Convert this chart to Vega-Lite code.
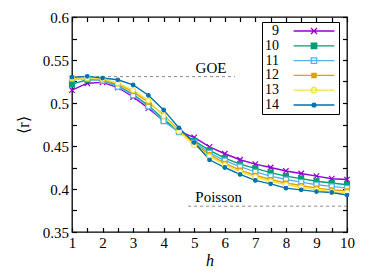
{
  "$schema": "https://vega.github.io/schema/vega-lite/v6.json",
  "width": 275,
  "height": 215,
  "autosize": "none",
  "padding": {"left": 72, "top": 17, "right": 27, "bottom": 48},
  "background": "white",
  "config": {
    "font": "Liberation Serif",
    "view": {"stroke": "black", "strokeWidth": 1.3, "fill": null},
    "axis": {"grid": false, "domain": false, "ticks": true, "tickColor": "#000000", "tickOpacity": 1, "tickWidth": 1.2, "tickSize": -4.5, "zindex": 5, "labelFont": "Liberation Serif", "labelFontSize": 15, "labelColor": "black", "titleFont": "Liberation Serif", "titleFontSize": 16, "titleFontWeight": "normal", "titleColor": "black", "labelFlush": false, "labelOverlap": false}
  },
  "data": {"values": [
    {"n": "9", "h": 1, "r": 0.515}, {"n": "9", "h": 1.5, "r": 0.523}, {"n": "9", "h": 2, "r": 0.524}, {"n": "9", "h": 2.5, "r": 0.518}, {"n": "9", "h": 3, "r": 0.507}, {"n": "9", "h": 3.5, "r": 0.494}, {"n": "9", "h": 4, "r": 0.479}, {"n": "9", "h": 4.5, "r": 0.467}, {"n": "9", "h": 5, "r": 0.46}, {"n": "9", "h": 5.5, "r": 0.449}, {"n": "9", "h": 6, "r": 0.441}, {"n": "9", "h": 6.5, "r": 0.434}, {"n": "9", "h": 7, "r": 0.429}, {"n": "9", "h": 7.5, "r": 0.425}, {"n": "9", "h": 8, "r": 0.421}, {"n": "9", "h": 8.5, "r": 0.418}, {"n": "9", "h": 9, "r": 0.415}, {"n": "9", "h": 9.5, "r": 0.412}, {"n": "9", "h": 10, "r": 0.411},
    {"n": "10", "h": 1, "r": 0.522}, {"n": "10", "h": 1.5, "r": 0.527}, {"n": "10", "h": 2, "r": 0.527}, {"n": "10", "h": 2.5, "r": 0.52}, {"n": "10", "h": 3, "r": 0.51}, {"n": "10", "h": 3.5, "r": 0.497}, {"n": "10", "h": 4, "r": 0.481}, {"n": "10", "h": 4.5, "r": 0.467}, {"n": "10", "h": 5, "r": 0.456}, {"n": "10", "h": 5.5, "r": 0.445}, {"n": "10", "h": 6, "r": 0.436}, {"n": "10", "h": 6.5, "r": 0.429}, {"n": "10", "h": 7, "r": 0.424}, {"n": "10", "h": 7.5, "r": 0.419}, {"n": "10", "h": 8, "r": 0.415}, {"n": "10", "h": 8.5, "r": 0.412}, {"n": "10", "h": 9, "r": 0.409}, {"n": "10", "h": 9.5, "r": 0.407}, {"n": "10", "h": 10, "r": 0.405},
    {"n": "11", "h": 1, "r": 0.528}, {"n": "11", "h": 1.5, "r": 0.528}, {"n": "11", "h": 2, "r": 0.526}, {"n": "11", "h": 2.5, "r": 0.519}, {"n": "11", "h": 3, "r": 0.509}, {"n": "11", "h": 3.5, "r": 0.496}, {"n": "11", "h": 4, "r": 0.479}, {"n": "11", "h": 4.5, "r": 0.466}, {"n": "11", "h": 5, "r": 0.454}, {"n": "11", "h": 5.5, "r": 0.442}, {"n": "11", "h": 6, "r": 0.433}, {"n": "11", "h": 6.5, "r": 0.426}, {"n": "11", "h": 7, "r": 0.42}, {"n": "11", "h": 7.5, "r": 0.415}, {"n": "11", "h": 8, "r": 0.411}, {"n": "11", "h": 8.5, "r": 0.408}, {"n": "11", "h": 9, "r": 0.405}, {"n": "11", "h": 9.5, "r": 0.403}, {"n": "11", "h": 10, "r": 0.401},
    {"n": "12", "h": 1, "r": 0.529}, {"n": "12", "h": 1.5, "r": 0.529}, {"n": "12", "h": 2, "r": 0.527}, {"n": "12", "h": 2.5, "r": 0.522}, {"n": "12", "h": 3, "r": 0.513}, {"n": "12", "h": 3.5, "r": 0.501}, {"n": "12", "h": 4, "r": 0.486}, {"n": "12", "h": 4.5, "r": 0.468}, {"n": "12", "h": 5, "r": 0.453}, {"n": "12", "h": 5.5, "r": 0.44}, {"n": "12", "h": 6, "r": 0.43}, {"n": "12", "h": 6.5, "r": 0.422}, {"n": "12", "h": 7, "r": 0.416}, {"n": "12", "h": 7.5, "r": 0.411}, {"n": "12", "h": 8, "r": 0.407}, {"n": "12", "h": 8.5, "r": 0.404}, {"n": "12", "h": 9, "r": 0.401}, {"n": "12", "h": 9.5, "r": 0.399}, {"n": "12", "h": 10, "r": 0.398},
    {"n": "13", "h": 1, "r": 0.529}, {"n": "13", "h": 1.5, "r": 0.529}, {"n": "13", "h": 2, "r": 0.528}, {"n": "13", "h": 2.5, "r": 0.523}, {"n": "13", "h": 3, "r": 0.515}, {"n": "13", "h": 3.5, "r": 0.503}, {"n": "13", "h": 4, "r": 0.485}, {"n": "13", "h": 4.5, "r": 0.467}, {"n": "13", "h": 5, "r": 0.451}, {"n": "13", "h": 5.5, "r": 0.438}, {"n": "13", "h": 6, "r": 0.428}, {"n": "13", "h": 6.5, "r": 0.42}, {"n": "13", "h": 7, "r": 0.414}, {"n": "13", "h": 7.5, "r": 0.409}, {"n": "13", "h": 8, "r": 0.405}, {"n": "13", "h": 8.5, "r": 0.402}, {"n": "13", "h": 9, "r": 0.399}, {"n": "13", "h": 9.5, "r": 0.397}, {"n": "13", "h": 10, "r": 0.396},
    {"n": "14", "h": 1, "r": 0.53}, {"n": "14", "h": 1.5, "r": 0.531}, {"n": "14", "h": 2, "r": 0.529}, {"n": "14", "h": 2.5, "r": 0.527}, {"n": "14", "h": 3, "r": 0.521}, {"n": "14", "h": 3.5, "r": 0.509}, {"n": "14", "h": 4, "r": 0.492}, {"n": "14", "h": 4.5, "r": 0.471}, {"n": "14", "h": 5, "r": 0.454}, {"n": "14", "h": 5.5, "r": 0.434}, {"n": "14", "h": 6, "r": 0.425}, {"n": "14", "h": 6.5, "r": 0.417}, {"n": "14", "h": 7, "r": 0.41}, {"n": "14", "h": 7.5, "r": 0.406}, {"n": "14", "h": 8, "r": 0.401}, {"n": "14", "h": 8.5, "r": 0.399}, {"n": "14", "h": 9, "r": 0.397}, {"n": "14", "h": 9.5, "r": 0.396}, {"n": "14", "h": 10, "r": 0.393}
  ]},
  "layer": [
    {
      "data": {"values": [{}]},
      "mark": {"type": "rule", "color": "#8c8c8c", "strokeDash": [3, 3], "strokeWidth": 1},
      "encoding": {
        "x": {"datum": 1, "type": "quantitative", "axis": null},
        "x2": {"datum": 6.33},
        "y": {"datum": 0.5307, "type": "quantitative", "axis": null}
      }
    },
    {
      "data": {"values": [{}]},
      "mark": {"type": "rule", "color": "#8c8c8c", "strokeDash": [3, 3], "strokeWidth": 1},
      "encoding": {
        "x": {"datum": 4.8, "type": "quantitative", "axis": null},
        "x2": {"datum": 10},
        "y": {"datum": 0.38, "type": "quantitative", "axis": null}
      }
    },
    {
      "data": {"values": [{}]},
      "mark": {"type": "text", "fontSize": 15, "font": "Liberation Serif", "color": "black"},
      "encoding": {
        "x": {"datum": 5.55, "type": "quantitative", "axis": null},
        "y": {"datum": 0.541, "type": "quantitative", "axis": null},
        "text": {"value": "GOE"}
      }
    },
    {
      "data": {"values": [{}]},
      "mark": {"type": "text", "fontSize": 15, "font": "Liberation Serif", "color": "black"},
      "encoding": {
        "x": {"datum": 5.8, "type": "quantitative", "axis": null},
        "y": {"datum": 0.391, "type": "quantitative", "axis": null},
        "text": {"value": "Poisson"}
      }
    },
    {
      "mark": {"type": "line", "strokeWidth": 1.4},
      "encoding": {
        "x": {"field": "h", "type": "quantitative", "scale": {"domain": [1, 10], "nice": false, "zero": false},
          "axis": {"orient": "bottom", "values": [1, 1.5, 2, 2.5, 3, 3.5, 4, 4.5, 5, 5.5, 6, 6.5, 7, 7.5, 8, 8.5, 9, 9.5, 10], "format": "~g", "labelExpr": "datum.value % 1 === 0 ? datum.label : ''", "labelPadding": 8, "title": "h", "titleFontStyle": "italic", "titlePadding": 2}},
        "y": {"field": "r", "type": "quantitative", "scale": {"domain": [0.35, 0.6], "nice": false, "zero": false},
          "axis": {"orient": "left", "values": [0.35, 0.375, 0.4, 0.425, 0.45, 0.475, 0.5, 0.525, 0.55, 0.575, 0.6], "format": "~g", "labelExpr": "abs(datum.value * 20 - round(datum.value * 20)) < 0.01 ? datum.label : ''", "labelPadding": 8, "title": "⟨r⟩", "titlePadding": 11}},
        "color": {"field": "n", "type": "nominal",
          "scale": {"domain": ["9", "10", "11", "12", "13", "14"], "range": ["#9400d3", "#009e73", "#56b4e9", "#e69f00", "#f0e442", "#0072b2"]},
          "legend": null}
      }
    },
    {
      "mark": {"type": "point", "size": 30, "strokeWidth": 1.2, "opacity": 1},
      "encoding": {
        "x": {"field": "h", "type": "quantitative",
          "axis": {"orient": "top", "values": [1, 1.5, 2, 2.5, 3, 3.5, 4, 4.5, 5, 5.5, 6, 6.5, 7, 7.5, 8, 8.5, 9, 9.5, 10], "labels": false, "title": null}},
        "y": {"field": "r", "type": "quantitative",
          "axis": {"orient": "right", "values": [0.35, 0.375, 0.4, 0.425, 0.45, 0.475, 0.5, 0.525, 0.55, 0.575, 0.6], "labels": false, "title": null}},
        "stroke": {"field": "n", "type": "nominal",
          "scale": {"domain": ["9", "10", "11", "12", "13", "14"], "range": ["#9400d3", "#009e73", "#56b4e9", "#e69f00", "#f0e442", "#0072b2"]},
          "legend": null},
        "fill": {"field": "n", "type": "nominal",
          "scale": {"domain": ["9", "10", "11", "12", "13", "14"], "range": ["#9400d3", "#009e73", "#ffffff", "#e69f00", "#ffffff", "#0072b2"]},
          "legend": null},
        "shape": {"field": "n", "type": "nominal",
          "scale": {"domain": ["9", "10", "11", "12", "13", "14"], "range": ["M-1,-1L1,1M-1,1L1,-1", "M-0.9,-0.9L0.9,-0.9L0.9,0.9L-0.9,0.9Z", "M-0.9,-0.9L0.9,-0.9L0.9,0.9L-0.9,0.9Z", "M-0.7,-0.7L0.7,-0.7L0.7,0.7L-0.7,0.7Z", "M-0.9,0A0.9,0.9,0,1,0,0.9,0A0.9,0.9,0,1,0,-0.9,0Z", "M-0.65,0A0.65,0.65,0,1,0,0.65,0A0.65,0.65,0,1,0,-0.65,0Z"]},
          "legend": null}
      }
    },
    {
      "transform": [{"filter": "false"}],
      "mark": {"type": "point", "strokeWidth": 1.3, "opacity": 1},
      "encoding": {
        "stroke": {"field": "n", "type": "nominal",
          "scale": {"domain": ["9", "10", "11", "12", "13", "14"], "range": ["#9400d3", "#009e73", "#56b4e9", "#e69f00", "#f0e442", "#0072b2"]},
          "legend": {"orient": "none", "legendX": 190, "legendY": 5, "title": null, "columns": 1, "symbolSize": 36, "symbolStrokeWidth": 1.3, "labelAlign": "right", "labelOffset": -42, "symbolOffset": 43, "rowPadding": 0.8, "padding": 2, "strokeColor": "black", "fillColor": "white", "labelFontSize": 14, "labelFont": "Liberation Serif", "labelColor": "black", "labelBaseline": "middle", "zindex": 6}},
        "fill": {"field": "n", "type": "nominal",
          "scale": {"domain": ["9", "10", "11", "12", "13", "14"], "range": ["#9400d3", "#009e73", "#ffffff", "#e69f00", "#ffffff", "#0072b2"]},
          "legend": {"orient": "none", "legendX": 190, "legendY": 5, "title": null, "columns": 1, "symbolSize": 36, "symbolStrokeWidth": 1.3, "labelAlign": "right", "labelOffset": -42, "symbolOffset": 43, "rowPadding": 0.8, "padding": 2, "strokeColor": "black", "fillColor": "white", "labelFontSize": 14, "labelFont": "Liberation Serif", "labelColor": "black", "labelBaseline": "middle", "zindex": 6}},
        "shape": {"field": "n", "type": "nominal",
          "scale": {"domain": ["9", "10", "11", "12", "13", "14"], "range": ["M-6.8,0L6.8,0M-1,-1L1,1M-1,1L1,-1", "M-6.8,0L6.8,0M-0.9,-0.9L0.9,-0.9L0.9,0.9L-0.9,0.9Z", "M-6.8,0L6.8,0M-0.9,-0.9L0.9,-0.9L0.9,0.9L-0.9,0.9Z", "M-6.8,0L6.8,0M-0.7,-0.7L0.7,-0.7L0.7,0.7L-0.7,0.7Z", "M-6.8,0L6.8,0M-0.9,0A0.9,0.9,0,1,0,0.9,0A0.9,0.9,0,1,0,-0.9,0Z", "M-6.8,0L6.8,0M-0.65,0A0.65,0.65,0,1,0,0.65,0A0.65,0.65,0,1,0,-0.65,0Z"]},
          "legend": {"orient": "none", "legendX": 190, "legendY": 5, "title": null, "columns": 1, "symbolSize": 36, "symbolStrokeWidth": 1.3, "labelAlign": "right", "labelOffset": -42, "symbolOffset": 43, "rowPadding": 0.8, "padding": 2, "strokeColor": "black", "fillColor": "white", "labelFontSize": 14, "labelFont": "Liberation Serif", "labelColor": "black", "labelBaseline": "middle", "zindex": 6}}
      }
    }
  ],
  "resolve": {"axis": {"x": "independent", "y": "independent"}, "scale": {"stroke": "independent", "fill": "independent", "shape": "independent"}}
}
